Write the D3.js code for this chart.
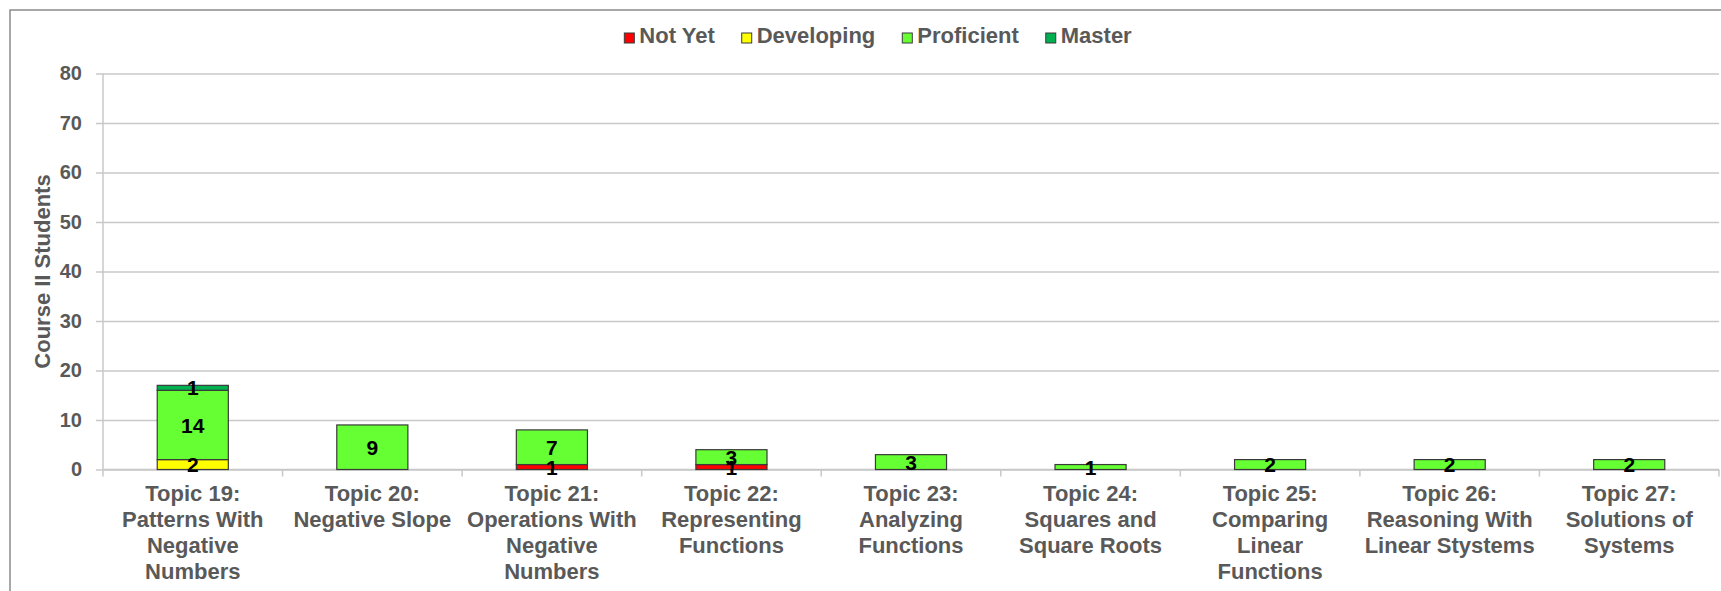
<!DOCTYPE html>
<html>
<head>
<meta charset="utf-8">
<script src="https://cdn.jsdelivr.net/npm/d3@7"></script>
<style>
  html, body { margin: 0; padding: 0; background: #fff; }
  svg { display: block; font-family: "Liberation Sans", Arial, sans-serif; }
</style>
</head>
<body>
<svg id="chart" width="1721" height="591"></svg>
<script>
// Topics (each label split into its wrapped lines)
const categories = ["Topic 19", "Topic 20", "Topic 21", "Topic 22", "Topic 23", "Topic 24", "Topic 25", "Topic 26", "Topic 27"];
const categoryLines = [
  ["Topic 19:", "Patterns With", "Negative", "Numbers"],
  ["Topic 20:", "Negative Slope"],
  ["Topic 21:", "Operations With", "Negative", "Numbers"],
  ["Topic 22:", "Representing", "Functions"],
  ["Topic 23:", "Analyzing", "Functions"],
  ["Topic 24:", "Squares and", "Square Roots"],
  ["Topic 25:", "Comparing", "Linear", "Functions"],
  ["Topic 26:", "Reasoning With", "Linear Stystems"],
  ["Topic 27:", "Solutions of", "Systems"]
];

// Student counts per mastery level
const seriesNames = ["Not Yet", "Developing", "Proficient", "Master"];
const notYet     = [0, 0, 1, 1, 0, 0, 0, 0, 0];
const developing = [2, 0, 0, 0, 0, 0, 0, 0, 0];
const proficient = [14, 9, 7, 3, 3, 1, 2, 2, 2];
const master     = [1, 0, 0, 0, 0, 0, 0, 0, 0];
const seriesColors = ["#FF0000", "#FFFF00", "#66FF33", "#00B050"];

const yTicks = [0, 10, 20, 30, 40, 50, 60, 70, 80];
const yTitle = "Course II Students";

const svg = d3.select("#chart");
const textColor = "#595959";

// Outer chart frame
svg.append("rect")
  .attr("x", 10).attr("y", 10)
  .attr("width", 1740).attr("height", 620)
  .attr("fill", "#fff")
  .attr("stroke", "#8c8c8c").attr("stroke-width", 1.5);

const plot = { left: 103, right: 1719, top: 73.5, bottom: 469.5 };

const x = d3.scaleBand()
  .domain(categories)
  .range([plot.left, plot.right])
  .paddingInner(0).paddingOuter(0);

const y = d3.scaleLinear()
  .domain([0, 80])
  .range([plot.bottom, plot.top]);

// Horizontal gridlines + y axis labels
const yAxis = d3.axisLeft(y)
  .tickValues(yTicks)
  .tickSize(-(plot.right - plot.left) - 7)
  .tickPadding(14)
  .tickFormat(d3.format("d"));

const gy = svg.append("g")
  .attr("transform", `translate(${plot.left - 7},0)`)
  .call(yAxis);
gy.select(".domain").remove();
gy.selectAll(".tick line").attr("stroke", "#c8c8c8").attr("stroke-width", 1.5);
gy.selectAll(".tick text")
  .attr("fill", textColor)
  .attr("font-size", 20)
  .attr("font-weight", "bold")
  .attr("font-family", "Liberation Sans, Arial, sans-serif");

// Vertical axis line
svg.append("line")
  .attr("x1", plot.left).attr("x2", plot.left)
  .attr("y1", plot.top).attr("y2", plot.bottom)
  .attr("stroke", "#c8c8c8").attr("stroke-width", 1.5);

// Category axis: baseline and tick marks at band edges
svg.append("line")
  .attr("x1", plot.left).attr("x2", plot.right)
  .attr("y1", plot.bottom).attr("y2", plot.bottom)
  .attr("stroke", "#c8c8c8").attr("stroke-width", 1.5);

const edges = categories.map(c => x(c)).concat([x(categories[categories.length - 1]) + x.bandwidth()]);
svg.append("g").selectAll("line")
  .data(edges)
  .join("line")
  .attr("x1", d => d).attr("x2", d => d)
  .attr("y1", plot.bottom).attr("y2", plot.bottom + 7)
  .attr("stroke", "#c8c8c8").attr("stroke-width", 1.5);

// Category labels (multi-line)
const catG = svg.append("g")
  .attr("font-size", 22).attr("font-weight", "bold")
  .attr("fill", textColor).attr("text-anchor", "middle");
categories.forEach((c, i) => {
  const t = catG.append("text")
    .attr("x", x(c) + x.bandwidth() / 2)
    .attr("y", plot.bottom + 31);
  categoryLines[i].forEach((line, j) => {
    t.append("tspan")
      .attr("x", x(c) + x.bandwidth() / 2)
      .attr("dy", j === 0 ? 0 : 26)
      .text(line);
  });
});

// Stacked bars
const rows = categories.map((c, i) => ({
  category: c,
  "Not Yet": notYet[i],
  "Developing": developing[i],
  "Proficient": proficient[i],
  "Master": master[i]
}));
const stacked = d3.stack().keys(seriesNames)(rows);

const barWidth = x.bandwidth() * 0.396;
const barG = svg.append("g");
stacked.forEach((layer, k) => {
  barG.append("g")
    .selectAll("rect")
    .data(layer.filter(d => d[1] - d[0] > 0))
    .join("rect")
    .attr("x", d => x(d.data.category) + (x.bandwidth() - barWidth) / 2)
    .attr("y", d => y(d[1]))
    .attr("width", barWidth)
    .attr("height", d => y(d[0]) - y(d[1]))
    .attr("fill", seriesColors[k])
    .attr("stroke", "#3a3a3a")
    .attr("stroke-width", 1.2);
});

// Value labels centred in each segment
const labG = svg.append("g")
  .attr("font-size", 21).attr("font-weight", "bold")
  .attr("fill", "#000").attr("text-anchor", "middle");
stacked.forEach(layer => {
  layer.filter(d => d[1] - d[0] > 0).forEach(d => {
    labG.append("text")
      .attr("x", x(d.data.category) + x.bandwidth() / 2)
      .attr("y", y((d[0] + d[1]) / 2))
      .attr("dy", "0.36em")
      .text(d[1] - d[0]);
  });
});

// Y axis title
svg.append("text")
  .attr("transform", `translate(42,${(plot.top + plot.bottom) / 2}) rotate(-90)`)
  .attr("text-anchor", "middle")
  .attr("dy", "0.36em")
  .attr("font-size", 22).attr("font-weight", "bold")
  .attr("fill", textColor)
  .text(yTitle);

// Legend, centred above the plot
const legend = svg.append("g");
let cursor = 0;
seriesNames.forEach((name, k) => {
  const g = legend.append("g");
  g.append("rect")
    .attr("x", 0).attr("y", -10)
    .attr("width", 10).attr("height", 10)
    .attr("fill", seriesColors[k])
    .attr("stroke", "#3a3a3a").attr("stroke-width", 1);
  const t = g.append("text")
    .attr("x", 15).attr("y", 0)
    .attr("font-size", 22).attr("font-weight", "bold")
    .attr("fill", textColor)
    .text(name);
  const w = 15 + t.node().getComputedTextLength();
  g.attr("transform", `translate(${cursor},0)`);
  cursor += w + 27;
});
const legendWidth = cursor - 27;
legend.attr("transform", `translate(${878 - legendWidth / 2},43)`);
</script>
</body>
</html>
